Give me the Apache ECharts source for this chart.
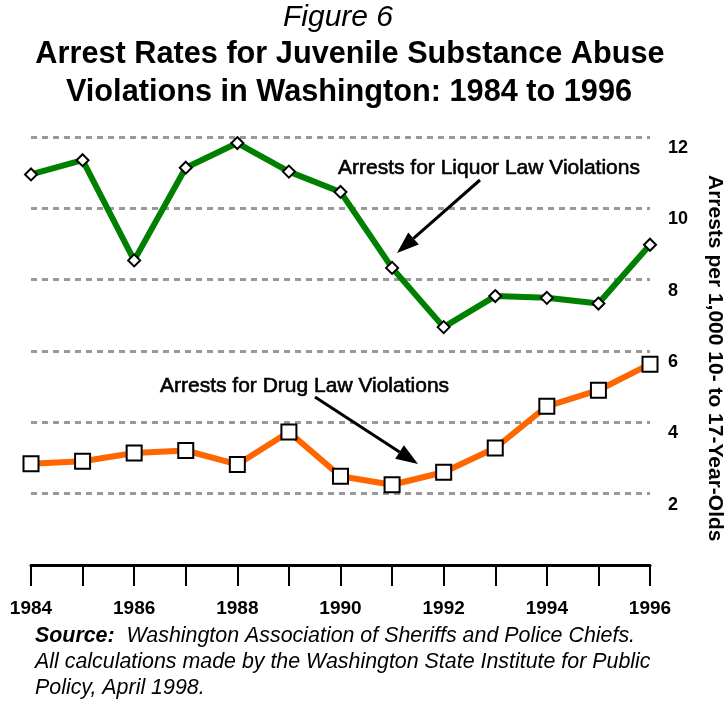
<!DOCTYPE html>
<html>
<head>
<meta charset="utf-8">
<script src="https://cdn.jsdelivr.net/npm/echarts@6/dist/echarts.min.js"></script>
<style>
html,body{margin:0;padding:0;background:#fff;}
#chart{width:728px;height:704px;}
</style>
</head>
<body>
<div id="chart"></div>
<script>
const years = ['1984','1985','1986','1987','1988','1989','1990','1991','1992','1993','1994','1995','1996'];
const liquorRates = [10.95, 11.35, 8.54, 11.14, 11.83, 11.03, 10.46, 8.33, 6.67, 7.54, 7.49, 7.33, 8.98];
const drugRates = [2.84, 2.91, 3.14, 3.21, 2.82, 3.73, 2.49, 2.25, 2.60, 3.28, 4.45, 4.90, 5.63];
const yMin = 0, yMax = 12, yStep = 2;

const FONT = '"Liberation Sans", Arial, Helvetica, sans-serif';

function arrow(x1, y1, x2, y2, headLen, headHalf, w) {
  const dx = x2 - x1, dy = y2 - y1;
  const L = Math.sqrt(dx*dx + dy*dy);
  const ux = dx / L, uy = dy / L;
  const bx = x2 - headLen*ux, by = y2 - headLen*uy;
  const nx = -uy, ny = ux;
  return [
    {type:'line', shape:{x1:x1, y1:y1, x2:bx, y2:by}, style:{stroke:'#000', lineWidth:w}, z:20},
    {type:'polygon', shape:{points:[[x2,y2],[bx+headHalf*nx, by+headHalf*ny],[bx-headHalf*nx, by-headHalf*ny]]}, style:{fill:'#000'}, z:20}
  ];
}

const chart = echarts.init(document.getElementById('chart'), null, {renderer:'canvas'});
const option = {
  animation: false,
  backgroundColor: '#fff',
  textStyle: {fontFamily: FONT},
  grid: {left: 31, right: 78, top: 137, bottom: 139},
  xAxis: {
    type: 'category',
    data: years,
    boundaryGap: false,
    z: 5,
    axisLine: {show: true, lineStyle: {color: '#000', width: 3}},
    axisTick: {show: true, interval: 0, length: 21, inside: false, lineStyle: {color: '#000', width: 2}},
    axisLabel: {interval: 1, margin: 34, color: '#000', fontSize: 19, fontWeight: 'bold', fontFamily: FONT},
    splitLine: {show: false}
  },
  yAxis: {
    type: 'value',
    position: 'right',
    min: yMin, max: yMax, interval: yStep,
    axisLine: {show: false},
    axisTick: {show: false},
    axisLabel: {margin: 18, color: '#000', fontSize: 18, fontWeight: 'bold', fontFamily: FONT,
      verticalAlign: 'top', padding: [2, 0, 0, 0],
      formatter: v => (v === 0 ? '' : String(v))},
    splitLine: {show: true, lineStyle: {color: '#999', width: 3, type: [6, 5]}}
  },
  series: [
    {
      name: 'Arrests for Liquor Law Violations',
      type: 'line',
      data: liquorRates,
      z: 3,
      symbol: 'diamond',
      symbolSize: 12,
      showAllSymbol: true,
      lineStyle: {color: '#008000', width: 6},
      itemStyle: {color: '#fff', borderColor: '#000', borderWidth: 2},
      emphasis: {disabled: true}
    },
    {
      name: 'Arrests for Drug Law Violations',
      type: 'line',
      data: drugRates,
      z: 3,
      symbol: 'rect',
      symbolSize: 15,
      showAllSymbol: true,
      lineStyle: {color: '#ff6600', width: 6},
      itemStyle: {color: '#fff', borderColor: '#000', borderWidth: 2},
      emphasis: {disabled: true}
    }
  ],
  graphic: [
    {type:'text', x:338, y:18, style:{text:'Figure 6', font:'italic 30px '+FONT, fill:'#000', textAlign:'center', textVerticalAlign:'middle'}},
    {type:'text', x:350, y:55, style:{text:'Arrest Rates for Juvenile Substance Abuse', font:'bold 30.7px '+FONT, fill:'#000', textAlign:'center', textVerticalAlign:'middle'}},
    {type:'text', x:349, y:93, style:{text:'Violations in Washington: 1984 to 1996', font:'bold 30.7px '+FONT, fill:'#000', textAlign:'center', textVerticalAlign:'middle'}},
    {type:'text', x:338, y:168, z:20, style:{text:'Arrests for Liquor Law Violations', font:'21px '+FONT, fill:'#000', stroke:'#000', lineWidth:0.6, textAlign:'left', textVerticalAlign:'middle'}},
    {type:'text', x:160, y:386, z:20, style:{text:'Arrests for Drug Law Violations', font:'21px '+FONT, fill:'#000', stroke:'#000', lineWidth:0.6, textAlign:'left', textVerticalAlign:'middle'}},
    ...arrow(480, 180, 397, 253, 22, 8, 3),
    ...arrow(315, 397, 418, 464, 22, 8, 3),
    {type:'text', x:715, y:175, rotation:-Math.PI/2, style:{text:'Arrests per 1,000 10- to 17-Year-Olds', font:'bold 21px '+FONT, fill:'#000', textAlign:'left', textVerticalAlign:'middle'}},
    {type:'text', x:35, y:636, style:{text:'{b|Source:}  Washington Association of Sheriffs and Police Chiefs.', font:'italic 21.4px '+FONT, fill:'#000', textAlign:'left', textVerticalAlign:'middle',
      rich:{b:{font:'italic bold 21.4px '+FONT, fill:'#000'}}}},
    {type:'text', x:35, y:662, style:{text:'All calculations made by the Washington State Institute for Public', font:'italic 21.4px '+FONT, fill:'#000', textAlign:'left', textVerticalAlign:'middle'}},
    {type:'text', x:35, y:688, style:{text:'Policy, April 1998.', font:'italic 21.4px '+FONT, fill:'#000', textAlign:'left', textVerticalAlign:'middle'}}
  ]
};
chart.setOption(option);
</script>
</body>
</html>
